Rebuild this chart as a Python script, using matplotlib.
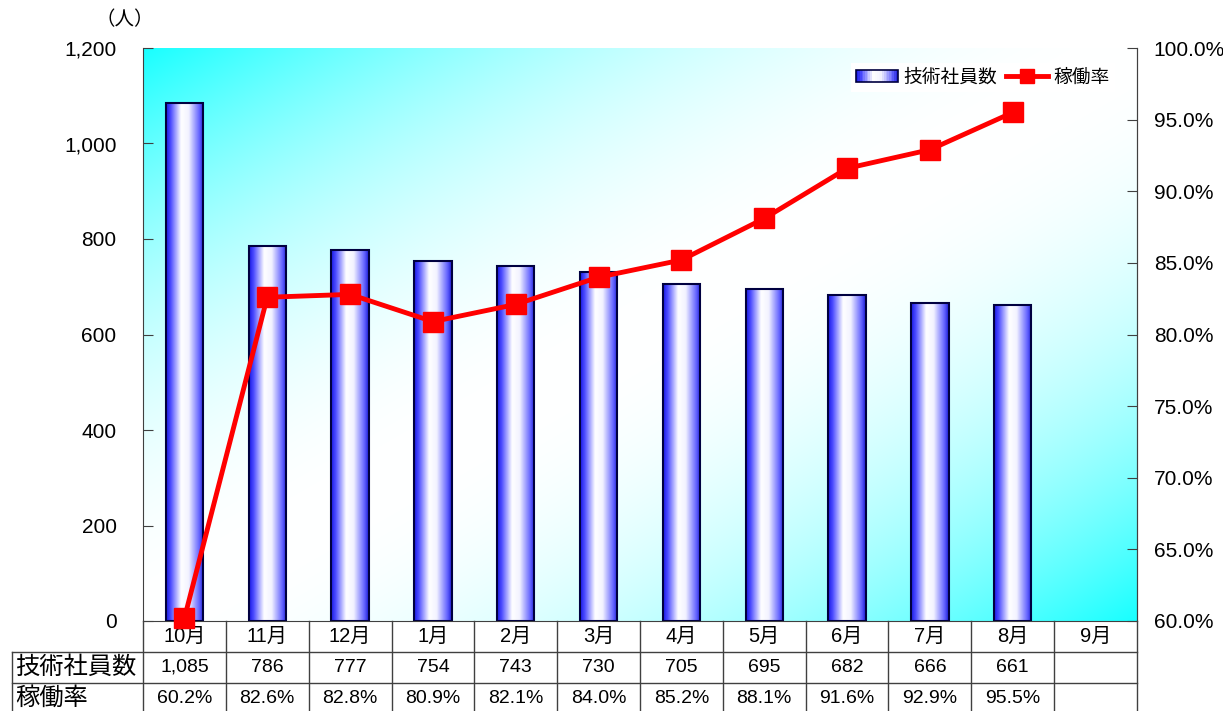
import numpy as np
import matplotlib.pyplot as plt
import matplotlib.transforms as mtransforms
from matplotlib.patches import Rectangle, Patch
from matplotlib.lines import Line2D
from matplotlib.legend_handler import HandlerBase
from matplotlib.colors import LinearSegmentedColormap
from matplotlib.ticker import FuncFormatter, MultipleLocator

plt.rcParams['font.family'] = ['Liberation Sans', 'Noto Sans CJK JP']

# data
months = ['10月', '11月', '12月', '1月', '2月', '3月', '4月', '5月', '6月', '7月', '8月', '9月']
staff = [1085, 786, 777, 754, 743, 730, 705, 695, 682, 666, 661]
rate = [60.2, 82.6, 82.8, 80.9, 82.1, 84.0, 85.2, 88.1, 91.6, 92.9, 95.5]
row_names = ['技術社員数', '稼働率']

W, H = 1223, 711
L, R, T, B = 143, 1137, 48, 621
fig = plt.figure(figsize=(W / 100, H / 100), dpi=100)
ax = fig.add_axes([L / W, 1 - B / H, (R - L) / W, (B - T) / H])

n = len(months)
xlim = (-0.5, n - 0.5)

# diagonal cyan -> white -> cyan background
nx, ny = 300, 200
u = np.linspace(0, 1, nx)
v = np.linspace(0, 1, ny)
t = (u[None, :] + v[:, None]) / 2
d = np.abs(2 * t - 1)
w = 1 - d ** 2
bg = np.ones((ny, nx, 3))
bg[:, :, 0] = 0.1 + 0.9 * w
ax.imshow(bg, extent=[xlim[0], xlim[1], 0, 1200], aspect='auto', zorder=0,
          interpolation='bilinear', origin='upper')

# bars with horizontal gradient
bar_cmap = LinearSegmentedColormap.from_list(
    'bar', [(0.0, (0.1, 0.1, 0.9)), (0.12, (0.3, 0.3, 1.0)),
            (0.4, (1.0, 1.0, 1.0)), (0.6, (0.95, 0.95, 1.0)),
            (0.88, (0.4, 0.4, 1.0)), (1.0, (0.12, 0.12, 0.85))])
bw = 0.45
grad = np.linspace(0, 1, 100)[None, :]
x = np.arange(len(staff))
for xi, h in zip(x, staff):
    ax.imshow(grad, extent=[xi - bw / 2, xi + bw / 2, 0, h], aspect='auto',
              cmap=bar_cmap, zorder=2, interpolation='bilinear')
ax.bar(x, staff, width=bw, facecolor='none', edgecolor='#000040', linewidth=1.5, zorder=3)

ax.set_xlim(*xlim)
ax.set_ylim(0, 1200)
ax.yaxis.set_major_locator(MultipleLocator(200))
ax.yaxis.set_major_formatter(FuncFormatter(lambda val, pos: f'{int(val):,}'))
ax.set_xticks([])
ax.tick_params(axis='y', direction='in', length=7, labelsize=15, pad=19, color='#404040')
for s in ['left', 'right', 'bottom']:
    ax.spines[s].set_color('#404040')
ax.spines['top'].set_visible(False)

# rate line
ax2 = ax.twinx()
ax2.plot(x, rate, color='#ff0000', lw=3.5, marker='s', ms=15, clip_on=False, zorder=5)
ax2.set_ylim(60, 100)
ax2.yaxis.set_major_locator(MultipleLocator(5))
ax2.yaxis.set_major_formatter(FuncFormatter(lambda val, pos: f'{val:.1f}%'))
ax2.tick_params(axis='y', direction='in', length=7, labelsize=15, pad=12, color='#404040')
ax2.spines['top'].set_visible(False)
ax2.spines['right'].set_color('#404040')
ax2.spines['left'].set_visible(False)
ax2.spines['bottom'].set_visible(False)

fig.text(125 / W, 1 - 20 / H, '（人）', fontsize=14, ha='center', va='center')


class GradHandler(HandlerBase):
    def create_artists(self, legend, orig_handle, xdescent, ydescent, width, height, fontsize, trans):
        k = 24
        arts = []
        for j in range(k):
            arts.append(Rectangle((-xdescent + j * width / k, -ydescent), width / k, height,
                                  facecolor=bar_cmap((j + 0.5) / k), lw=0, transform=trans))
        arts.append(Rectangle((-xdescent, -ydescent), width, height, fill=False,
                              edgecolor='#000040', lw=1.2, transform=trans))
        return arts


h_bar = Patch()
h_line = Line2D([], [], color='#ff0000', lw=3.5, marker='s', ms=10)
leg = ax2.legend([h_bar, h_line], row_names, handler_map={Patch: GradHandler()},
                 loc='center', bbox_to_anchor=(0.845, 0.948), ncol=2, fontsize=13.5,
                 frameon=True, fancybox=False, edgecolor='none', facecolor='white',
                 framealpha=1, handlelength=2.2, handleheight=0.55, columnspacing=0.5,
                 handletextpad=0.3, borderpad=0.3)

# data table under the chart
tr = mtransforms.blended_transform_factory(ax.transData, fig.transFigure)
rows_y = [621, 652, 683, 714]
lc = '#404040'


def fy(p):
    return 1 - p / H


for k in range(n + 1):
    ax.plot([k - 0.5, k - 0.5], [fy(621), fy(711)], color=lc, lw=1, transform=tr, clip_on=False)
for p in rows_y[1:3]:
    fig.add_artist(Line2D([12 / W, R / W], [fy(p), fy(p)], color=lc, lw=1))
fig.add_artist(Line2D([12 / W, 12 / W], [fy(652), fy(711)], color=lc, lw=1))

staff_labels = [f'{s:,}' for s in staff] + ['']
rate_labels = [f'{r:.1f}%' for r in rate] + ['']
for i in range(n):
    ax.text(i, fy(636.5), months[i], transform=tr, ha='center', va='center', fontsize=14.5)
    ax.text(i, fy(667.5), staff_labels[i], transform=tr, ha='center', va='center', fontsize=14)
    ax.text(i, fy(698.5), rate_labels[i], transform=tr, ha='center', va='center', fontsize=14)
fig.text(15 / W, fy(667.5), row_names[0], ha='left', va='center', fontsize=17.5)
fig.text(15 / W, fy(698.5), row_names[1], ha='left', va='center', fontsize=17.5)

fig.savefig('out.png', dpi=100)
